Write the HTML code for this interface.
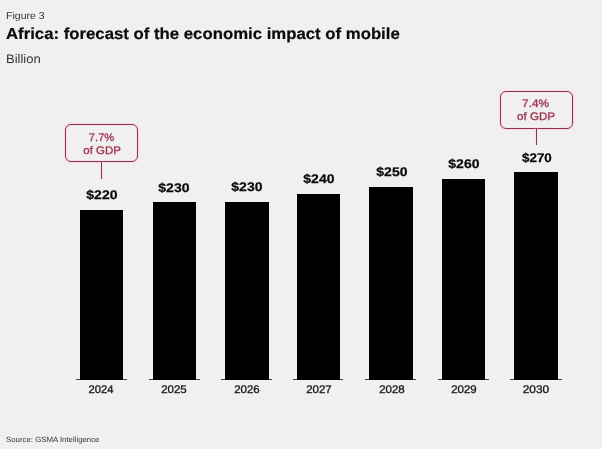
<!DOCTYPE html>
<html><head><meta charset="utf-8"><title>Africa: forecast of the economic impact of mobile</title>
<style>
html,body{margin:0;padding:0;}
body{width:602px;height:449px;background:#f0f0f0;position:relative;overflow:hidden;font-family:"Liberation Sans",sans-serif;color:#111;text-rendering:geometricPrecision;}
.t{position:absolute;white-space:nowrap;line-height:1;}
.t span{display:inline-block;}
.fig{left:6.1px;top:11.9px;font-size:10px;color:#333;}
.fig span{transform:scaleX(1.055);transform-origin:0 50%;}
.title{left:6.0px;top:26.9px;font-size:16px;font-weight:bold;color:#0a0a0a;-webkit-text-stroke:0.2px #0a0a0a;}
.title span{transform:scaleX(1.047);transform-origin:0 50%;}
.unit{left:6.0px;top:52.8px;font-size:12.4px;color:#333;}
.unit span{transform:scaleX(1.05);transform-origin:0 50%;}
.src{left:6px;top:436.4px;font-size:7.6px;color:#333;}
.src span{transform:scaleX(1.03);transform-origin:0 50%;}
.bar{position:absolute;background:#000;width:43.6px;}
.ax{position:absolute;height:0.9px;background:#444;top:379.0px;}
.val{font-size:12.5px;font-weight:bold;width:60px;text-align:center;color:#0a0a0a;-webkit-text-stroke:0.25px #0a0a0a;}
.val span{transform:scaleX(1.12);transform-origin:50% 50%;}
.yr{font-size:11px;width:60px;text-align:center;color:#1c1c1c;top:385.3px;-webkit-text-stroke:0.35px #1c1c1c;}
.yr span{transform:translateX(-0.3px) scaleX(1.045);transform-origin:50% 50%;}
.box{position:absolute;box-sizing:border-box;border:1.2px solid #96304a;border-radius:6px;width:72.7px;height:38.1px;box-shadow:0 0 1.5px 0.3px #f4d9e0, inset 0 0 1.5px 0.3px #f4d9e0;}
.ct{font-size:11px;color:#96304a;width:72.7px;text-align:center;-webkit-text-stroke:0.25px #96304a;text-shadow:0 0 2px #f0c4cf;}
.ct span{transform:scaleX(1.02);transform-origin:50% 50%;}
.stem{position:absolute;width:1.2px;background:#96304a;box-shadow:0 0 1.5px 0.3px #f4d9e0;}
</style></head><body>
<div class="t fig"><span class="m">Figure 3</span></div>
<div class="t title"><span class="m">Africa: forecast of the economic impact of mobile</span></div>
<div class="t unit"><span class="m">Billion</span></div>

<div class="box" style="left:65.3px;top:124.2px;"></div>
<div class="t ct" style="left:64.8px;top:132.69px;"><span class="m" style="transform:scaleX(1.01)">7.7%</span></div>
<div class="t ct" style="left:65.3px;top:145.69px;"><span class="m" style="transform:scaleX(1.04)">of GDP</span></div>
<div class="stem" style="left:101.05px;top:161.80px;height:17.0px;"></div>
<div class="box" style="left:500.0px;top:90.5px;"></div>
<div class="t ct" style="left:499.5px;top:98.69px;"><span class="m" style="transform:scaleX(1.07)">7.4%</span></div>
<div class="t ct" style="left:500.0px;top:111.69px;"><span class="m" style="transform:scaleX(1.05)">of GDP</span></div>
<div class="stem" style="left:535.75px;top:128.10px;height:16.9px;"></div>
<div class="ax" style="left:75.80px;width:50.90px"></div>
<div class="ax" style="left:148.75px;width:50.75px"></div>
<div class="ax" style="left:220.70px;width:51.50px"></div>
<div class="ax" style="left:292.90px;width:50.45px"></div>
<div class="ax" style="left:365.25px;width:51.10px"></div>
<div class="ax" style="left:437.65px;width:51.30px"></div>
<div class="ax" style="left:510.20px;width:51.70px"></div>
<div class="bar" style="left:80px;top:210px;width:43.20px;height:169.70px;"></div>
<div class="bar" style="left:152.95px;top:202.4px;width:43.05px;height:177.30px;"></div>
<div class="bar" style="left:224.9px;top:202.2px;width:43.80px;height:177.50px;"></div>
<div class="bar" style="left:297.1px;top:194px;width:42.75px;height:185.70px;"></div>
<div class="bar" style="left:369.45px;top:186.85px;width:43.40px;height:192.85px;"></div>
<div class="bar" style="left:441.85px;top:178.9px;width:43.60px;height:200.80px;"></div>
<div class="bar" style="left:514.4px;top:171.6px;width:44.00px;height:208.10px;"></div>
<div class="t val" style="left:71.80px;top:188.72px;"><span class="m" style="transform:scaleX(1.12)">$220</span></div>
<div class="t val" style="left:144.20px;top:181.72px;"><span class="m" style="transform:scaleX(1.12)">$230</span></div>
<div class="t val" style="left:216.55px;top:180.72px;"><span class="m" style="transform:scaleX(1.12)">$230</span></div>
<div class="t val" style="left:288.90px;top:172.72px;"><span class="m" style="transform:scaleX(1.12)">$240</span></div>
<div class="t val" style="left:361.95px;top:165.72px;"><span class="m" style="transform:scaleX(1.12)">$250</span></div>
<div class="t val" style="left:433.65px;top:157.72px;"><span class="m" style="transform:scaleX(1.12)">$260</span></div>
<div class="t val" style="left:506.65px;top:151.72px;"><span class="m" style="transform:scaleX(1.07)">$270</span></div>
<div class="t yr" style="left:71.10px;"><span class="m" style="transform:translateX(-0.3px) scaleX(1.02)">2024</span></div>
<div class="t yr" style="left:144.20px;"><span class="m" style="transform:translateX(-0.3px) scaleX(1.045)">2025</span></div>
<div class="t yr" style="left:217.05px;"><span class="m" style="transform:translateX(-0.3px) scaleX(1.045)">2026</span></div>
<div class="t yr" style="left:289.10px;"><span class="m" style="transform:translateX(-0.3px) scaleX(1.045)">2027</span></div>
<div class="t yr" style="left:361.85px;"><span class="m" style="transform:translateX(-0.3px) scaleX(1.045)">2028</span></div>
<div class="t yr" style="left:434.45px;"><span class="m" style="transform:translateX(-0.3px) scaleX(1.045)">2029</span></div>
<div class="t yr" style="left:506.40px;"><span class="m" style="transform:translateX(-0.3px) scaleX(1.08)">2030</span></div>
<div class="t src"><span class="m">Source: GSMA Intelligence</span></div>
</body></html>
